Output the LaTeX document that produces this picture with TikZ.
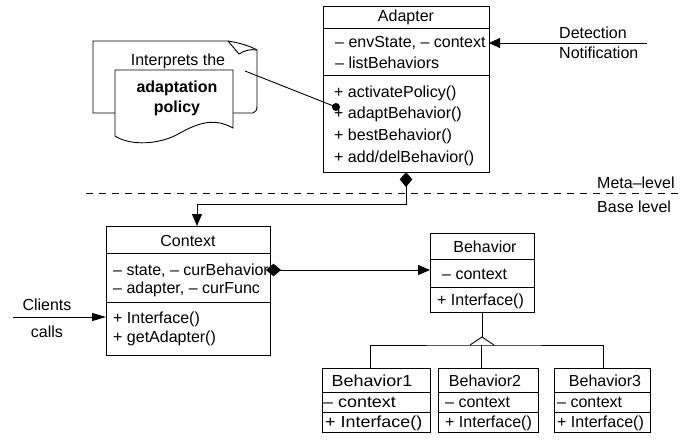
\documentclass[tikz,border=0pt]{standalone}
\usepackage{fontspec}
\setmainfont{Liberation Sans}
\newfontfamily\widefont[FakeStretch=1.12]{Liberation Sans}
\usetikzlibrary{arrows.meta}
\begin{document}
\begin{tikzpicture}[x=1pt,y=-1pt,
  every node/.style={font=\fontsize{16}{19}\selectfont},
  umlbox/.style={draw,line width=1pt,inner sep=0pt,outer sep=0pt,anchor=north west},
  sep/.style={line width=1pt},
  txt/.style={anchor=mid west,inner sep=0pt,yshift=-2.5pt},
  ctxt/.style={anchor=mid,inner sep=0pt,yshift=-2.5pt},
  wtxt/.style={inner sep=0pt,yshift=-2.5pt,font=\widefont\fontsize{16}{19}\selectfont},
  conn/.style={line width=0.9pt},
  dia/.style={{Diamond[length=15pt,width=12.5pt]}-{Triangle[length=12pt,width=10pt]}},
]
\useasboundingbox (0,0) rectangle (681,442);

% ---------- Adapter ----------
\node[umlbox,minimum width=166pt,minimum height=166pt] (adapter) at (323,6) {};
\draw[sep] (323,28) -- (489,28);
\draw[sep] (323,75) -- (489,75);
\node[ctxt] (adt) at (406,16) {Adapter};
\node[txt] (ad1) at (335,42) {– envState, – context};
\node[txt] (ad2) at (335,63) {– listBehaviors};
\node[txt] (ad3) at (334,92) {+ activatePolicy()};
\node[txt] (ad4) at (334,113) {+ adaptBehavior()};
\node[txt] (ad5) at (334,135) {+ bestBehavior()};
\node[txt] (ad6) at (334,157) {+ add/delBehavior()};

% ---------- Detection / Notification ----------
\coordinate (det) at (647,43);
\draw[conn,-{Triangle[length=11pt,width=10pt]}] (det) -- (adapter.east |- det);
\node[txt] (detl) at (559,33) {Detection};
\node[txt] (notl) at (559,53) {Notification};

% ---------- note (document) ----------
\draw[line width=0.9pt] (115,113) -- (93,113) -- (93,41) -- (228,41)
  .. controls (240,43) and (250,46) .. (257,50) -- (257,106)
  .. controls (257,110) and (256,112) .. (253,113) -- (233,113);
\draw[line width=0.9pt] (228,41) -- (239,54) .. controls (245,50) and (251,49) .. (257,50);
\draw[line width=0.9pt,fill=white] (115,136) -- (115,70) -- (233,70) -- (233,128)
  .. controls (215,118) and (200,122) .. (180,133)
  .. controls (160,145) and (130,146) .. (115,136);
\node[ctxt] (n1) at (178,60) {Interprets the};
\node[ctxt,font=\bfseries\fontsize{16}{19}\selectfont] (n2) at (177,87) {adaptation};
\node[ctxt,font=\bfseries\fontsize{16}{19}\selectfont] (n3) at (177,107) {policy};
\coordinate (note) at (245,71);
\node[circle,fill,inner sep=0pt,minimum size=8pt] (dot) at (336,107) {};
\draw[conn] (note) -- (dot.center);

% ---------- level separation ----------
\coordinate (dl) at (86,193);
\coordinate (dr) at (681,193);
\draw[conn,dash pattern=on 7pt off 6pt] (dl) -- (dr);
\node[txt] (meta) at (597,183) {Meta–level};
\node[txt] (base) at (597,207) {Base level};

% ---------- Context ----------
\node[umlbox,minimum width=164pt,minimum height=129pt] (context) at (106,226) {};
\draw[sep] (106,253) -- (270,253);
\draw[sep] (106,302) -- (270,302);
\node[ctxt] (ctt) at (188,241) {Context};
\node[txt] (c1) at (113,270) {– state, – curBehavior};
\node[txt] (c2) at (113,288) {– adapter, – curFunc};
\node[txt] (c3) at (113,318) {+ Interface()};
\node[txt] (c4) at (113,337) {+ getAdapter()};

% adapter -> context (composition)
\draw[conn,dia] (adapter.south) -- ++(0,32) -| ([xshift=9pt]context.north);

% clients
\coordinate (cl) at (13,317);
\draw[conn,-{Triangle[length=14pt,width=8pt]}] (cl) -- (context.west |- cl);
\node[ctxt] (clt) at (47,305) {Clients};
\node[ctxt] (cat) at (47,332) {calls};

% ---------- Behavior ----------
\node[umlbox,minimum width=104pt,minimum height=79pt] (behavior) at (430,233) {};
\draw[sep] (430,259) -- (534,259);
\draw[sep] (430,287) -- (534,287);
\node[ctxt] (bt) at (485,247) {Behavior};
\node[txt] (b1) at (442,274) {– context};
\node[txt] (b2) at (437,300) {+ Interface()};

% context -> behavior
\coordinate (cb) at (266,270);
\draw[conn,{Diamond[length=15pt,width=12.5pt]}-{Triangle[length=12pt,width=10pt]}] (cb) -- (behavior.west |- cb);

% ---------- subclasses ----------
\node[umlbox,minimum width=108pt,minimum height=64pt] (beh1) at (322,368) {};
\draw[sep] (322,392) -- (430,392);
\draw[sep] (322,412) -- (430,412);
\node[wtxt,anchor=mid] (b1t) at (372,381) {Behavior1};
\node[wtxt,anchor=mid west] (b1a) at (323,402) {– context};
\node[wtxt,anchor=mid west] (b1m) at (325,422) {+ Interface()};

\node[umlbox,minimum width=100pt,minimum height=64pt] (beh2) at (438,368) {};
\draw[sep] (438,392) -- (538,392);
\draw[sep] (438,412) -- (538,412);
\node[ctxt] (b2t) at (485,381) {Behavior2};
\node[txt] (b2a) at (445,402) {– context};
\node[txt] (b2m) at (445,422) {+ Interface()};

\node[umlbox,minimum width=96pt,minimum height=64pt] (beh3) at (554,368) {};
\draw[sep] (554,392) -- (650,392);
\draw[sep] (554,412) -- (650,412);
\node[ctxt] (b3t) at (605,381) {Behavior3};
\node[txt] (b3a) at (557,402) {– context};
\node[txt] (b3m) at (557,422) {+ Interface()};

% generalization
\coordinate (apex) at (482,337);
\coordinate (gl) at (470,345);
\coordinate (gr) at (494,345);
\draw[conn] (behavior.south) -- (apex);
\draw[conn] (gl) -- (apex) -- (gr);
\draw[conn] ([xshift=-6pt]beh1.north) -- ++(0,-23) -- ([xshift=-7pt]beh2.north |- gl) -- ([xshift=1pt]beh3.north |- gl) -- ([xshift=1pt]beh3.north);
\draw[conn] ([xshift=-7pt]beh2.north) -- ++(0,-23);
\end{tikzpicture}
\end{document}
